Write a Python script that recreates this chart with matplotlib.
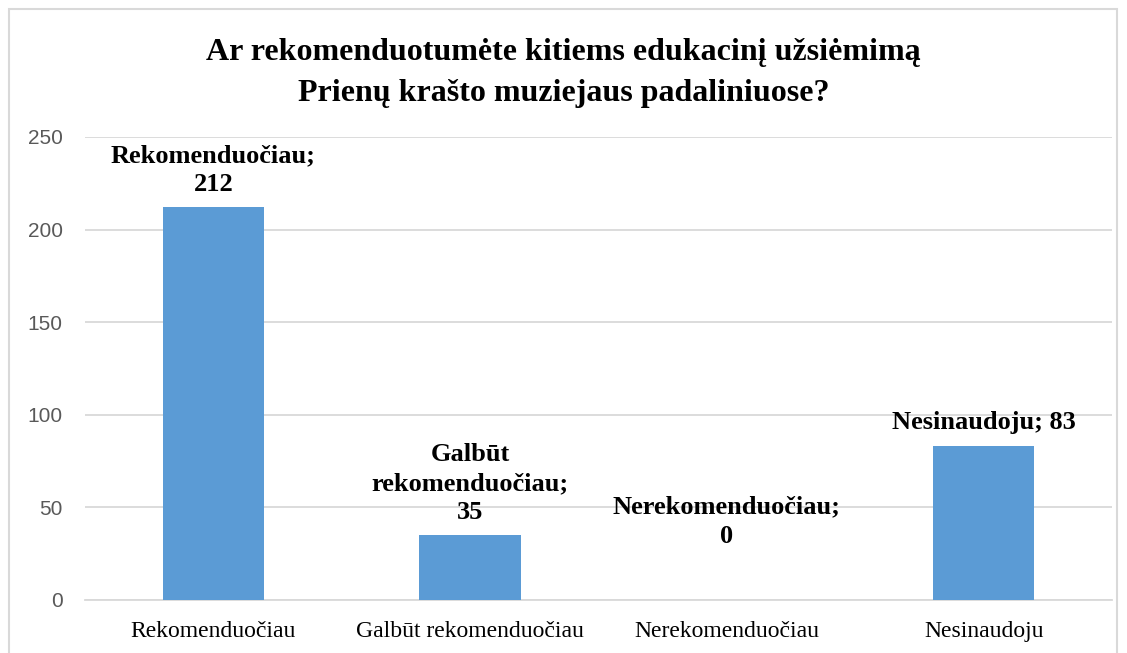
#!/usr/bin/env python3
"""Bar chart: would visitors recommend the educational session"""
import matplotlib
matplotlib.use('Agg')
import matplotlib.pyplot as plt
from matplotlib.patches import Rectangle

categories = ['Rekomenduočiau', 'Galbūt rekomenduočiau',
              'Nerekomenduočiau', 'Nesinaudoju']
values = [212, 35, 0, 83]
point_labels = ['Rekomenduočiau;\n212', 'Galbūt\nrekomenduočiau;\n35',
                'Nerekomenduočiau;\n0', 'Nesinaudoju; 83']
yticks = [0, 50, 100, 150, 200, 250]
title = 'Ar rekomenduotumėte kitiems edukacinį užsiėmimą\nPrienų krašto muziejaus padaliniuose?'


def main():
    fig = plt.figure(figsize=(11.27, 6.53), dpi=100)
    ax = fig.add_axes([0.0754, 0.0812, 0.9113, 0.709])

    # outer chart border
    fig.patches.append(Rectangle((9 / 1127, -0.01), 1108 / 1127, 1 - 9 / 653 + 0.01,
                                 transform=fig.transFigure, fill=False,
                                 edgecolor='#d9d9d9', lw=1.5))

    x = range(len(categories))
    ax.bar(x, values, width=0.395, color='#5b9bd5', zorder=3)

    ax.set_xlim(-0.5, len(categories) - 0.5)
    ax.set_ylim(0, 250)
    ax.set_yticks(yticks)
    ax.set_xticks(list(x))
    ax.set_xticklabels(categories, family='Liberation Serif', fontsize=17)
    ax.tick_params(axis='y', length=0, pad=16, labelsize=15, labelcolor='#595959')
    ax.tick_params(axis='x', length=0, pad=15)
    for lbl in ax.get_yticklabels():
        lbl.set_family('Liberation Sans')

    ax.grid(axis='y', color='#d9d9d9', lw=1.3, zorder=0)
    for s in ['top', 'right', 'left']:
        ax.spines[s].set_visible(False)
    ax.spines['bottom'].set_color('#d9d9d9')
    ax.spines['bottom'].set_linewidth(1.3)

    offsets = [11, 11, 52, 12]
    for xi, v, lab, off in zip(x, values, point_labels, offsets):
        ax.annotate(lab, (xi, v), xytext=(0, off), textcoords='offset pixels',
                    ha='center', va='bottom', family='Liberation Serif',
                    fontweight='bold', fontsize=19, linespacing=1.35)

    fig.text(0.5, 1 - 73 / 653, title, ha='center', va='center',
             family='Liberation Serif', fontweight='bold', fontsize=23,
             linespacing=1.55)

    fig.savefig('out.png', dpi=100, facecolor='white')


if __name__ == "__main__":
    main()
